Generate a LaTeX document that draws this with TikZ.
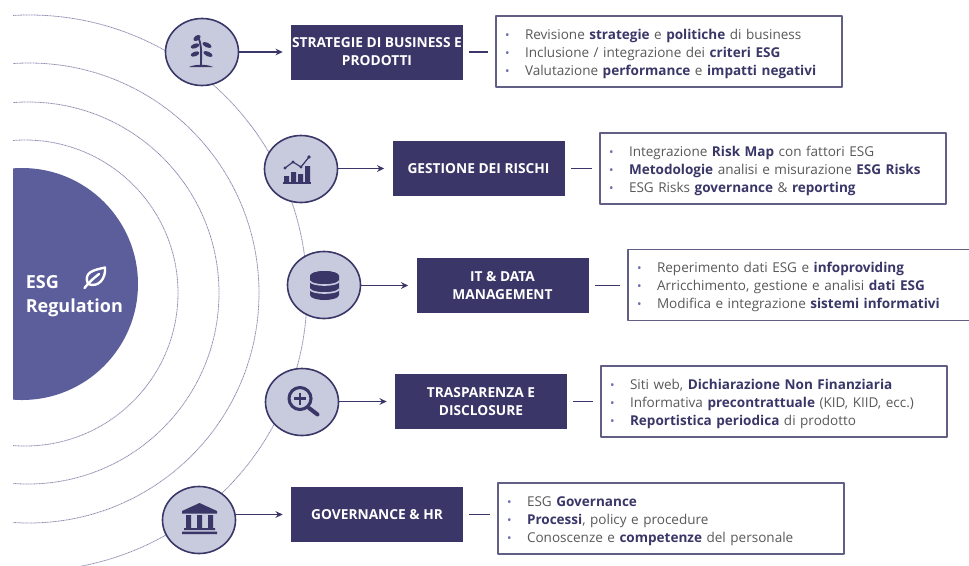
\documentclass[tikz,border=0pt]{standalone}
\usepackage{fontspec}
\setmainfont{Open Sans}
\usetikzlibrary{shapes.geometric,arrows.meta}
\definecolor{navyesg}{HTML}{3A3768}
\definecolor{discoesg}{HTML}{5C5E9C}
\definecolor{lillaesg}{HTML}{C8CADD}
\definecolor{anelloesg}{HTML}{8C8CB0}
\definecolor{testoesg}{HTML}{595959}
\definecolor{puntoesg}{HTML}{6E70B0}
\newlength{\pxu}
\setlength{\pxu}{0.75pt}
\newcommand{\evid}[1]{\textcolor{navyesg}{\bfseries #1}}
\newcommand{\bul}{\makebox[15pt][l]{\textcolor{puntoesg}{\fontsize{9}{9}\selectfont •}}}
\tikzset{
	cerchio/.style={ellipse, draw=navyesg, fill=lillaesg, line width=1.2pt, minimum width=73\pxu, minimum height=67\pxu, inner sep=0pt},
	titolo/.style={fill=navyesg, text=white, font=\fontsize{10.3}{13.5}\selectfont\bfseries, minimum width=172\pxu, minimum height=55\pxu, align=center, inner sep=0pt},
	dettaglio/.style={draw=navyesg!80!white, fill=white, line width=0.8pt, text=testoesg, font=\fontsize{10.15}{13.5}\selectfont, text width=328\pxu, minimum height=71\pxu, inner xsep=9\pxu, inner ysep=0pt, align=left, execute at begin node={\rule{0pt}{11pt}}},
	freccia/.style={-{Stealth[length=5.4pt,width=5pt]}, navyesg, line width=0.8pt, shorten >=8\pxu},
	trattino/.style={navyesg, line width=0.8pt, shorten <=6\pxu, shorten >=7\pxu},
	anello/.style={anelloesg, line width=0.6pt, dash pattern=on 0.8pt off 0.4pt}
}
\begin{document}
\begin{tikzpicture}[x=0.75pt, y=-0.75pt, line join=round, line cap=butt]
	\clip (0,0) rectangle (969,565);
	\begin{scope}
		\clip (13,0) rectangle (969,565);
		\foreach \r/\cx in {153/25,191/28,230/29,278/29}
			\draw[anello] (\cx,293) circle (\r);
		\fill[discoesg] (22,284) circle (116);
	\end{scope}
	\node[text=white, font=\fontsize{13.5}{18}\selectfont\bfseries, align=left, anchor=west, inner sep=0pt] (esg) at (25.5,296) {ESG\\Regulation};
	% foglia
	\draw[white, line width=1.8pt, line cap=round] (84.5,288) .. controls (90,281) and (94,278) .. (99,274);
	\draw[white, line width=1.8pt] (88,284) .. controls (83,272) and (94,270) .. (105,267.5) .. controls (106,279) and (98,288) .. cycle;
	% cerchi
	\node[cerchio] (c1) at (202,52) {};
	\node[cerchio] (c2) at (301,169) {};
	\node[cerchio] (c3) at (324,285) {};
	\node[cerchio] (c4) at (302,402) {};
	\node[cerchio] (c5) at (199,520) {};
	% titoli
	\node[titolo] (t1) at (377,52) {STRATEGIE DI BUSINESS E\\PRODOTTI};
	\node[titolo] (t2) at (478.5,168.5) {GESTIONE DEI RISCHI};
	\node[titolo] (t3) at (502.5,285.5) {IT \& DATA\\MANAGEMENT};
	\node[titolo] (t4) at (481,401.5) {TRASPARENZA E\\DISCLOSURE};
	\node[titolo] (t5) at (377,514.5) {GOVERNANCE \& HR};
	% dettagli
	\node[dettaglio] (d1) at (669,51.5) {\bul Revisione \evid{strategie} e \evid{politiche} di business\\\bul Inclusione / integrazione dei \evid{criteri ESG}\\\bul Valutazione \evid{performance} e \evid{impatti negativi}};
	\node[dettaglio] (d2) at (773,168.5) {\bul Integrazione \evid{Risk Map} con fattori ESG\\\bul \evid{Metodologie} analisi e misurazione \evid{ESG Risks}\\\bul ESG Risks \evid{governance} \& \evid{reporting}};
	\node[dettaglio] (d3) at (801,285) {\bul Reperimento dati ESG e \evid{infoproviding}\\\bul Arricchimento, gestione e analisi \evid{dati ESG}\\\bul Modifica e integrazione \evid{sistemi informativi}};
	\node[dettaglio] (d4) at (774,401.5) {\bul Siti web, \evid{Dichiarazione Non Finanziaria}\\\bul Informativa \evid{precontrattuale} (KID, KIID, ecc.)\\\bul \evid{Reportistica periodica} di prodotto};
	\node[dettaglio] (d5) at (671,518.5) {\bul ESG \evid{Governance}\\\bul \evid{Processi}, policy e procedure\\\bul Conoscenze e \evid{competenze} del personale};
	% connettori
	\foreach \i in {1,...,5} {
		\draw[freccia] (t\i.west -| c\i.east) -- (t\i.west);
		\draw[trattino] (t\i.east) -- (t\i.east -| d\i.west);
	}
	% icona pianta
	\fill[navyesg] (189,67) .. controls (195,64) and (207,64) .. (213,67) -- cycle;
	\draw[navyesg, line width=1.4pt] (201,65) .. controls (201,55) and (202,48) .. (199,39);
	\fill[navyesg, rotate around={35:(197,38)}] (197,38) ellipse (4 and 2.5);
	\fill[navyesg, rotate around={20:(195,46)}] (195,46) ellipse (4.5 and 2.3);
	\fill[navyesg, rotate around={-25:(207,45)}] (207,45) ellipse (5 and 2.3);
	\fill[navyesg, rotate around={20:(195,54)}] (195,54) ellipse (4.5 and 2.3);
	\fill[navyesg, rotate around={-25:(208,54)}] (208,54) ellipse (5 and 2.3);
	% icona grafico
	\fill[navyesg] (284,176) rectangle (289,182) (291,172) rectangle (296,182) (298,174) rectangle (303,182) (305,166) rectangle (310,182);
	\fill[navyesg] (283,182) rectangle (311,183.5);
	\draw[navyesg, line width=0.9pt] (285,168) -- (293,162) -- (301,167) -- (309,157);
	\fill[navyesg] (285,168) circle (1.7) (293,162) circle (1.7) (301,167) circle (1.7) (309,157) circle (1.9);
	% icona database
	\fill[navyesg] (310,276) arc[start angle=180, end angle=360, x radius=14.5, y radius=5] -- (339,295) arc[start angle=0, end angle=180, x radius=14.5, y radius=5] -- cycle;
	\fill[navyesg] (324.5,276) ellipse (14.5 and 5);
	\draw[lillaesg, line width=1.2pt] (310,281) arc[start angle=180, end angle=0, x radius=14.5, y radius=4];
	\draw[lillaesg, line width=1.2pt] (310,289) arc[start angle=180, end angle=0, x radius=14.5, y radius=4];
	% icona lente
	\draw[navyesg, line width=2.3pt] (300,398.5) circle (11);
	\draw[navyesg, line width=1.7pt] (294,398.5) -- (306,398.5) (300,392.5) -- (300,404.5);
	\draw[navyesg, line width=3pt, line cap=round] (309,408) -- (317.5,414.5);
	% icona banca
	\fill[navyesg] (199.5,503) -- (217,511) -- (217,513.5) -- (182,513.5) -- (182,511) -- cycle;
	\fill[navyesg] (186,515) rectangle (191,528) (197,515) rectangle (202,528) (208,515) rectangle (213,528);
	\fill[navyesg] (184,528) rectangle (215,530) (182,531.5) rectangle (217,534);
\end{tikzpicture}
\end{document}
